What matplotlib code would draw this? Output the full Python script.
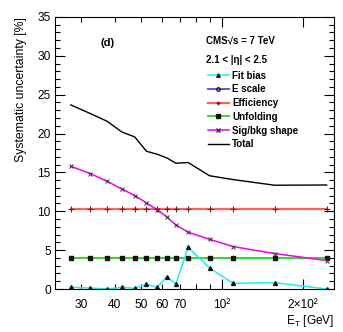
import matplotlib
matplotlib.use("Agg")
import matplotlib.pyplot as plt
from matplotlib.ticker import FixedLocator, FixedFormatter
from matplotlib.lines import Line2D

plt.rcParams.update({
    "font.family": "Liberation Sans",
    "mathtext.fontset": "custom",
    "mathtext.rm": "Liberation Sans",
    "mathtext.it": "Liberation Sans:italic",
    "font.size": 8,
})

# E_T bin centres [GeV]
et = [27.5, 32.5, 37.5, 42.5, 47.5, 52.5, 57.5, 62.5, 67.5, 75, 90, 110, 157, 245]

fit_bias   = [0.22, 0.13, 0.0, 0.22, 0.09, 0.6, 0.22, 1.6, 0.64, 5.37, 2.70, 0.73, 0.82, 0.0]
e_scale    = [4.0] * 14
efficiency = [10.3] * 14
unfolding  = [4.0] * 14
sig_bkg    = [15.79, 14.85, 13.86, 12.87, 12.02, 11.07, 10.22, 9.27, 8.24, 7.30, 6.40, 5.46, 4.56, 3.66]
total      = [23.68, 22.57, 21.58, 20.21, 19.56, 17.72, 17.34, 16.86, 16.18, 16.27, 14.57, 14.08, 13.35, 13.38]

major_x = [100, 200]
major_lbl = ["10²", "2×10²"]
minor_x = [30, 40, 50, 60, 70, 80, 90]
minor_lbl = ["30", "40", "50", "60", "70", "", ""]

C_FIT = "#22eeee"
C_ESC = "#5555ee"
C_EFF = "#ff5f5f"
C_UNF = "#33dd33"
C_SIG = "#ee00ee"

fig = plt.figure(figsize=(3.43, 3.32), dpi=100)
ax = fig.add_axes([0.160, 0.1295, 0.814, 0.8195])

ax.plot(et, e_scale, color=C_ESC, lw=1.4, marker="o", ms=2.5, mfc="none", mec="#222")
ax.plot(et, unfolding, color=C_UNF, lw=1.4, marker="s", ms=3, mfc="#111", mec="#111")
ax.plot(et, efficiency, color=C_EFF, lw=1.6, marker="+", ms=4, mec="#333", mew=0.8)
ax.plot(et, sig_bkg, color=C_SIG, lw=1.1, marker="x", ms=3, mec="#333", mew=0.7)
ax.plot(et, fit_bias, color=C_FIT, lw=1.1, marker="^", ms=2.8, mfc="#111", mec="#111")
ax.plot(et, total, color="black", lw=1.0)

ax.set_xscale("log")
ax.set_xlim(24, 261)
ax.set_ylim(0, 35)

ax.xaxis.set_major_locator(FixedLocator(major_x))
ax.xaxis.set_major_formatter(FixedFormatter(major_lbl))
ax.xaxis.set_minor_locator(FixedLocator(minor_x))
ax.xaxis.set_minor_formatter(FixedFormatter(minor_lbl))
ax.set_yticks(range(0, 36, 5))
ax.set_yticks(range(0, 36, 1), minor=True)
ax.tick_params(which="both", direction="in", top=True, right=True, labelsize=8.6)
ax.tick_params(which="major", length=7, width=0.8)
ax.tick_params(which="minor", length=3.5, width=0.8)
ax.tick_params(axis="x", which="both", pad=7)
ax.tick_params(axis="y", which="both", pad=3)

ax.set_ylabel("Systematic uncertainty [%]", loc="top", fontsize=8.8)
ax.yaxis.set_label_coords(-0.10, 1.0)
ax.set_xlabel(r"E$_\mathrm{T}$ [GeV]", loc="right", fontsize=8.6)
ax.xaxis.set_label_coords(1.0, -0.09)

ax.text(0.19, 0.905, "(d)", transform=ax.transAxes, fontsize=8, fontweight="bold",
        ha="center", va="center")
ax.text(0.54, 0.912, "CMS√s = 7 TeV", transform=ax.transAxes,
        fontsize=7, fontweight="bold", ha="left", va="center")
ax.text(0.54, 0.843, "2.1 < |η| < 2.5", transform=ax.transAxes, fontsize=7,
        fontweight="bold", ha="left", va="center")

handles = [
    Line2D([], [], color=C_FIT, lw=1.1, marker="^", ms=2.5, mfc="#111", mec="#111"),
    Line2D([], [], color=C_ESC, lw=1.4, marker="o", ms=2.5, mfc="none", mec="#222"),
    Line2D([], [], color=C_EFF, lw=1.6, marker="+", ms=3.5, mec="#333"),
    Line2D([], [], color=C_UNF, lw=1.4, marker="s", ms=2.5, mfc="#111", mec="#111"),
    Line2D([], [], color=C_SIG, lw=1.1, marker="x", ms=2.5, mec="#333"),
    Line2D([], [], color="black", lw=1.0),
]
labels = ["Fit bias", "E scale", "Efficiency", "Unfolding", "Sig/bkg shape", "Total"]
leg = ax.legend(handles, labels, loc="upper left", bbox_to_anchor=(0.53, 0.82),
                frameon=False, handlelength=2.2, handletextpad=0.3,
                labelspacing=0.38, borderpad=0, prop={"weight": "bold", "size": 7})

fig.savefig("out.png", dpi=100)
